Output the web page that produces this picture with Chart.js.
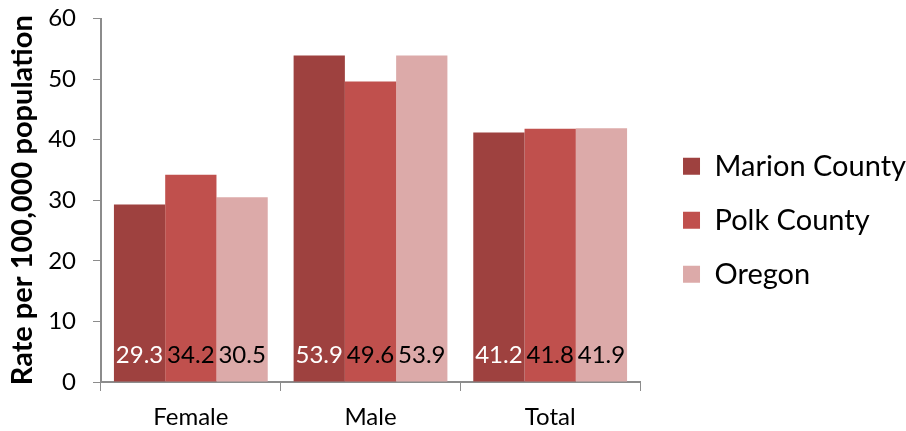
<!DOCTYPE html>
<html>
<head>
<meta charset="utf-8">
<script src="https://cdn.jsdelivr.net/npm/chart.js@4"></script>
<style>
  html, body { margin: 0; padding: 0; background: #fff; }
  #wrap { width: 906px; height: 431px; }
</style>
</head>
<body>
<div id="wrap"><canvas id="chart" width="906" height="431"></canvas></div>
<script>
// chart values
const categories = ['Female', 'Male', 'Total'];
const seriesNames = ['Marion County', 'Polk County', 'Oregon'];
const marionValues = [29.3, 53.9, 41.2];
const polkValues = [34.2, 49.6, 41.8];
const oregonValues = [30.5, 53.9, 41.9];
const yTicks = [0, 10, 20, 30, 40, 50, 60];

const colors = ['#9e413f', '#c0504d', '#dcaaa9'];
const labelColors = ['#ffffff', '#000000', '#000000'];
const FONT = 'Lato, "Open Sans", sans-serif';
const AXIS_GREY = '#8c8c8c';

// value labels sit at the foot of each bar
const barLabels = {
    id: 'barLabels',
    afterDatasetsDraw(chart) {
        const ctx = chart.ctx;
        const yBase = chart.scales.y.getPixelForValue(0);
        ctx.save();
        ctx.font = '24px ' + FONT;
        ctx.textAlign = 'center';
        ctx.textBaseline = 'middle';
        chart.data.datasets.forEach((ds, i) => {
            chart.getDatasetMeta(i).data.forEach((bar, j) => {
                ctx.fillStyle = labelColors[i];
                ctx.fillText(ds.data[j].toFixed(1), bar.x, yBase - 27);
            });
        });
        ctx.restore();
    }
};

// nudge the legend block up a little so it centres like the original
const legendNudge = {
    id: 'legendNudge',
    afterLayout(chart) {
        if (chart.legend) {
            chart.legend.bottom -= 9;
            chart.legend.height -= 9;
        }
    }
};

const values = [marionValues, polkValues, oregonValues];

new Chart(document.getElementById('chart').getContext('2d'), {
    type: 'bar',
    data: {
        labels: categories,
        datasets: seriesNames.map((name, i) => ({
            label: name,
            data: values[i],
            backgroundColor: colors[i],
            borderWidth: 0,
            categoryPercentage: 0.856,
            barPercentage: 1.0,
        })),
    },
    options: {
        responsive: false,
        animation: false,
        layout: { padding: { top: 18.5, right: -10, bottom: 0, left: 0 } },
        plugins: {
            legend: {
                position: 'right',
                maxWidth: 320,
                labels: {
                    font: { family: FONT, size: 29 },
                    color: '#000',
                    boxWidth: 17,
                    boxHeight: 17,
                    padding: 25,
                },
            },
            tooltip: { enabled: false },
        },
        scales: {
            x: {
                grid: {
                    display: true,
                    drawOnChartArea: false,
                    offset: true,
                    tickLength: 9,
                    color: AXIS_GREY,
                },
                border: { color: AXIS_GREY, width: 2 },
                ticks: { font: { family: FONT, size: 24 }, color: '#000', padding: 12 },
                afterFit: s => { s.height = 49; s.paddingLeft = 0; s.paddingRight = 0; },
            },
            y: {
                min: 0,
                max: 60,
                afterBuildTicks: s => { s.ticks = yTicks.map(v => ({ value: v })); },
                grid: {
                    display: true,
                    drawOnChartArea: false,
                    tickLength: 8,
                    color: AXIS_GREY,
                },
                border: { color: AXIS_GREY, width: 2 },
                ticks: { font: { family: FONT, size: 24 }, color: '#000', padding: 17 },
                title: {
                    display: true,
                    text: 'Rate per 100,000 population',
                    font: { family: FONT, size: 29, weight: 'bold' },
                    color: '#000',
                    padding: { top: 5, bottom: 0 },
                },
                afterFit: s => { s.width = 101; s.paddingTop = 0; s.paddingBottom = 0; },
            },
            // empty spacer between the plot and the legend
            gap: {
                position: 'right',
                display: true,
                grid: { display: false },
                border: { display: false },
                ticks: { display: false },
                afterFit: s => { s.width = 18; s.paddingTop = 0; s.paddingBottom = 0; },
            },
        },
    },
    plugins: [barLabels, legendNudge],
});
</script>
</body>
</html>
